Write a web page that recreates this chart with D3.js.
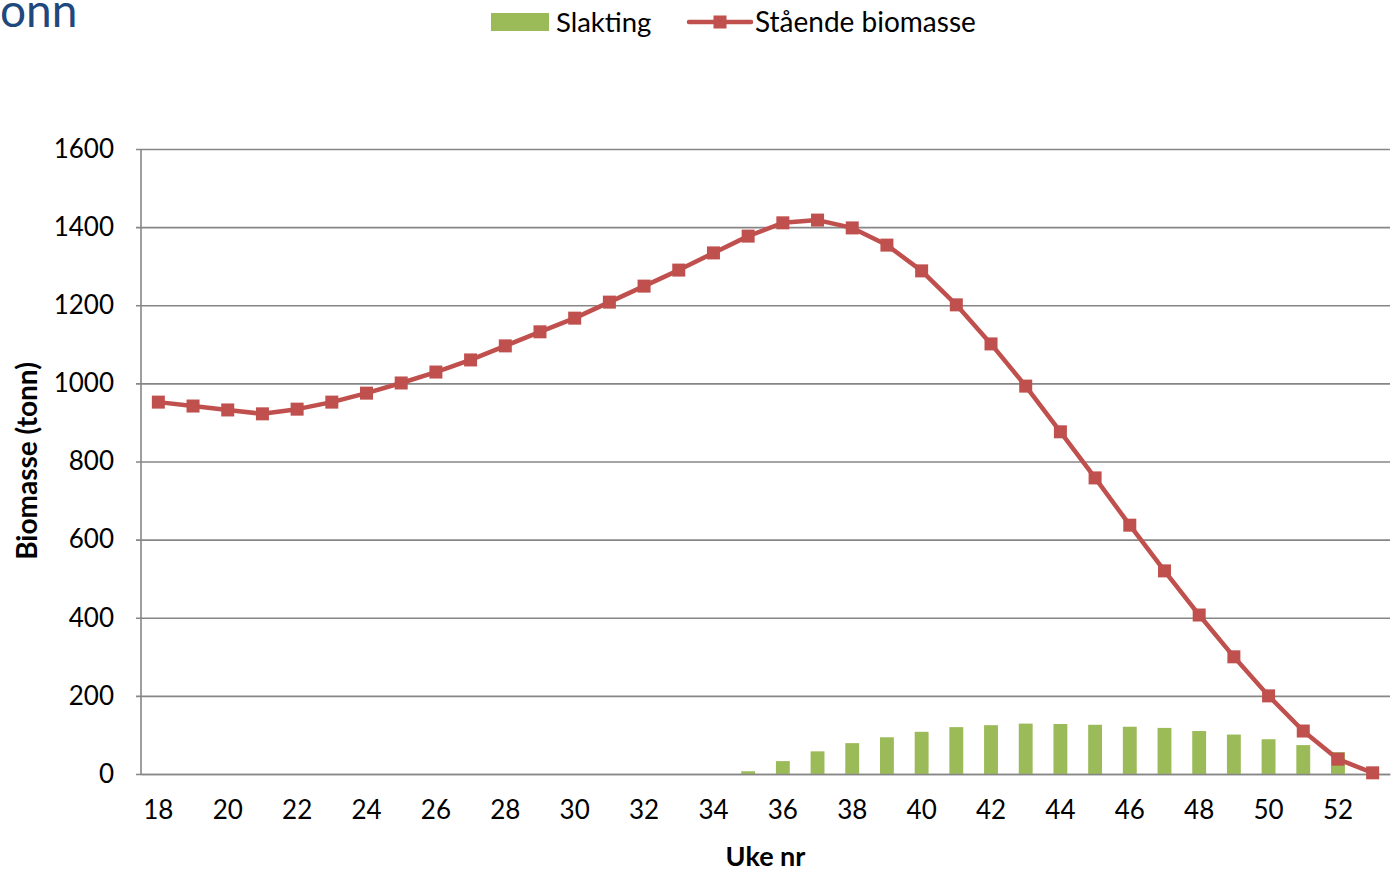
<!DOCTYPE html>
<html>
<head>
<meta charset="utf-8">
<script src="https://cdn.jsdelivr.net/npm/d3@7"></script>
<style>
  body { margin: 0; background: #fff; }
  svg { display: block; font-family: Lato, "Open Sans", sans-serif; }
</style>
</head>
<body>
<svg id="chart" width="1392" height="871"></svg>
<script>
// weeks 18..53
const weeks = d3.range(18, 54);
const slakting = [
  0, 0, 0, 0, 0, 0, 0, 0, 0, 0, 0, 0, 0, 0, 0, 0, 0,
  7, 33, 58, 79, 94, 108, 120, 125, 129, 128, 126, 121, 118, 110, 101, 89, 74, 56, 0
];
const biomasse = [
  952, 942, 932, 922, 934, 952, 975, 1001, 1029, 1060, 1096, 1132, 1167, 1208, 1249, 1290, 1334,
  1377, 1411, 1418, 1398, 1354, 1288, 1201, 1101, 993, 876, 758, 637, 520, 407, 300, 200, 110, 38, 3
];
const yTicks = [0, 200, 400, 600, 800, 1000, 1200, 1400, 1600];

const GREEN = "#9BBB59";
const RED = "#C0504D";
const GRID = "#868686";

const svg = d3.select("#chart");
const margin = { top: 149, right: 2, bottom: 97, left: 141 };
const width = 1392 - margin.left - margin.right;
const height = 871 - margin.top - margin.bottom;

const chart = svg.append("g")
  .attr("transform", `translate(${margin.left}, ${margin.top})`);

const x = d3.scaleBand().domain(weeks).range([0, width]).padding(0);
const y = d3.scaleLinear().domain([0, 1600]).range([height, 0]);
const xc = (d) => x(d) + x.bandwidth() / 2;

// title fragment, cut off at the left like the source
svg.append("text")
  .attr("x", 0)
  .attr("y", 27)
  .attr("font-size", 46)
  .attr("fill", "#1F497D")
  .text("onn");

// gridlines + y axis
const yAxisG = chart.append("g").attr("class", "y-axis");
yAxisG.call(d3.axisLeft(y).tickValues(yTicks).tickFormat(d3.format("d")).tickSize(-width).tickPadding(27));
yAxisG.select(".domain").remove();
yAxisG.selectAll(".tick line")
  .attr("x1", -5)
  .attr("stroke", GRID)
  .attr("stroke-width", 1.6);
yAxisG.selectAll(".tick text")
  .attr("font-size", 26)
  .attr("font-family", "Lato, sans-serif")
  .attr("fill", "#000");

// vertical axis line
chart.append("line")
  .attr("x1", 0).attr("x2", 0)
  .attr("y1", 0).attr("y2", height)
  .attr("stroke", GRID).attr("stroke-width", 1.6);

// bars
const barW = x.bandwidth() * 0.4;
chart.selectAll(".bar")
  .data(weeks.map((w, i) => ({ week: w, value: slakting[i] })))
  .join("rect")
  .attr("class", "bar")
  .attr("x", (d) => xc(d.week) - barW / 2)
  .attr("y", (d) => y(d.value))
  .attr("width", barW)
  .attr("height", (d) => height - y(d.value))
  .attr("fill", GREEN);

// x axis
const xAxisG = chart.append("g")
  .attr("class", "x-axis")
  .attr("transform", `translate(0, ${height})`);
xAxisG.call(d3.axisBottom(x).tickValues(weeks.filter((w) => w % 2 === 0)).tickSize(0).tickPadding(27));
xAxisG.select(".domain")
  .attr("stroke", GRID).attr("stroke-width", 1.6);
xAxisG.selectAll(".tick text")
  .attr("font-size", 26)
  .attr("font-family", "Lato, sans-serif")
  .attr("fill", "#000");

// biomass line
const pts = weeks.map((w, i) => ({ week: w, value: biomasse[i] }));
chart.append("path")
  .datum(pts)
  .attr("fill", "none")
  .attr("stroke", RED)
  .attr("stroke-width", 4.5)
  .attr("stroke-linejoin", "round")
  .attr("d", d3.line().x((d) => xc(d.week)).y((d) => y(d.value)));

const mk = 13;
chart.selectAll(".marker")
  .data(pts)
  .join("rect")
  .attr("class", "marker")
  .attr("x", (d) => xc(d.week) - mk / 2)
  .attr("y", (d) => y(d.value) - mk / 2)
  .attr("width", mk)
  .attr("height", mk)
  .attr("fill", RED);

// axis titles
svg.append("text")
  .attr("x", margin.left + width / 2)
  .attr("y", 866)
  .attr("text-anchor", "middle")
  .attr("font-size", 27)
  .attr("font-weight", "bold")
  .text("Uke nr");

svg.append("text")
  .attr("transform", "translate(37, 461) rotate(-90)")
  .attr("text-anchor", "middle")
  .attr("font-size", 28)
  .attr("font-weight", "bold")
  .text("Biomasse (tonn)");

// legend
const legend = svg.append("g");
legend.append("rect")
  .attr("x", 491).attr("y", 13).attr("width", 58).attr("height", 18)
  .attr("fill", GREEN);
legend.append("text")
  .attr("x", 556).attr("y", 32)
  .attr("font-size", 27.5)
  .text("Slakting");
legend.append("line")
  .attr("x1", 689).attr("x2", 751).attr("y1", 22).attr("y2", 22)
  .attr("stroke", RED).attr("stroke-width", 4.5).attr("stroke-linecap", "round");
legend.append("rect")
  .attr("x", 720 - mk / 2).attr("y", 22 - mk / 2).attr("width", mk).attr("height", mk)
  .attr("fill", RED);
legend.append("text")
  .attr("x", 755).attr("y", 32)
  .attr("font-size", 28)
  .text("Stående biomasse");
</script>
</body>
</html>
